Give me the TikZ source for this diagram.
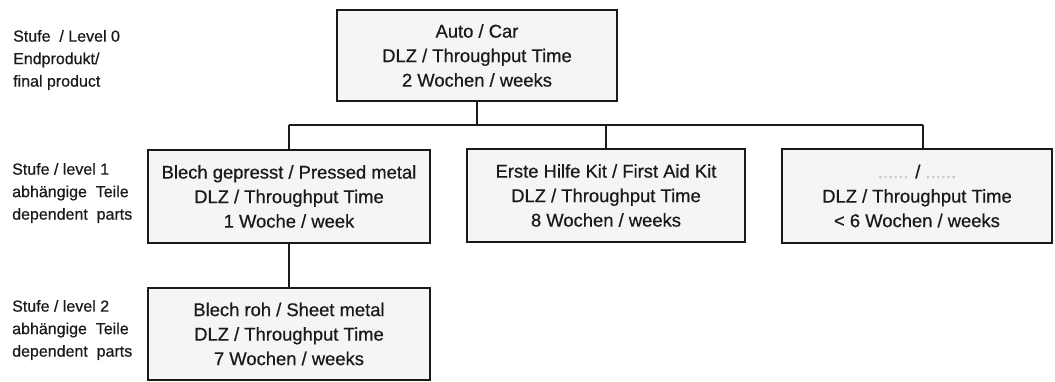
\documentclass[tikz,border=0pt]{standalone}
\usepackage{fontspec}
\setmainfont{Liberation Sans}[FakeBold=0.6]
\usetikzlibrary{calc}
\definecolor{ink}{HTML}{1A1A1A}
\definecolor{boxfill}{HTML}{F5F5F5}
\begin{document}
\begin{tikzpicture}[x=1pt,y=-1pt,
  box/.style={draw=ink, line width=2.6pt, fill=boxfill, align=center, inner sep=0pt,
    text=ink, font=\fontsize{18.4}{24.5}\selectfont},
  lvl/.style={anchor=west, align=left, text=ink, inner sep=0pt, font=\fontsize{16}{22.5}\selectfont},
  conn/.style={draw=ink, line width=1.6pt}]
\useasboundingbox (0,0) rectangle (1055,381);
\node[box, minimum width=280pt, minimum height=91pt] (top) at (477,55.5)
  {Auto / Car\\DLZ / Throughput Time\\2 Wochen / weeks};
\node[box, minimum width=282pt, minimum height=93pt] (b1) at (289,196.5)
  {Blech gepresst / Pressed metal\\DLZ / Throughput Time\\1 Woche / week};
\node[box, minimum width=278pt, minimum height=93pt] (b2) at (606,195.5)
  {Erste Hilfe Kit / First Aid Kit\\DLZ / Throughput Time\\8 Wochen / weeks};
\node[box, minimum width=270pt, minimum height=94pt] (b3) at (917,196)
  {\textcolor{gray!45}{......} / \textcolor{gray!45}{......}\\DLZ / Throughput Time\\< 6 Wochen / weeks};
\node[box, minimum width=282pt, minimum height=92pt] (b4) at (289,334)
  {Blech roh / Sheet metal\\DLZ / Throughput Time\\7 Wochen / weeks};
\node[lvl] (l0) at (13,60) {Stufe\ \ / Level 0\\Endprodukt/\\final product};
\node[lvl] (l1) at (12,193) {Stufe / level 1\\abhängige\ \ Teile\\dependent\ \ parts};
\node[lvl] (l2) at (12,330) {Stufe / level 2\\abhängige\ \ Teile\\dependent\ \ parts};
\coordinate (busL) at (289,125);
\coordinate (busR) at (923,125);
\draw[conn] (top.south) -- (top.south |- busL);
\draw[conn] (busL) -- (busR);
\draw[conn] (busL) -- (b1.north);
\draw[conn] (b2.north |- busL) -- (b2.north);
\draw[conn] (busR) -- (busR |- b3.north);
\draw[conn] (b1.south) -- (b4.north);
\end{tikzpicture}
\end{document}
